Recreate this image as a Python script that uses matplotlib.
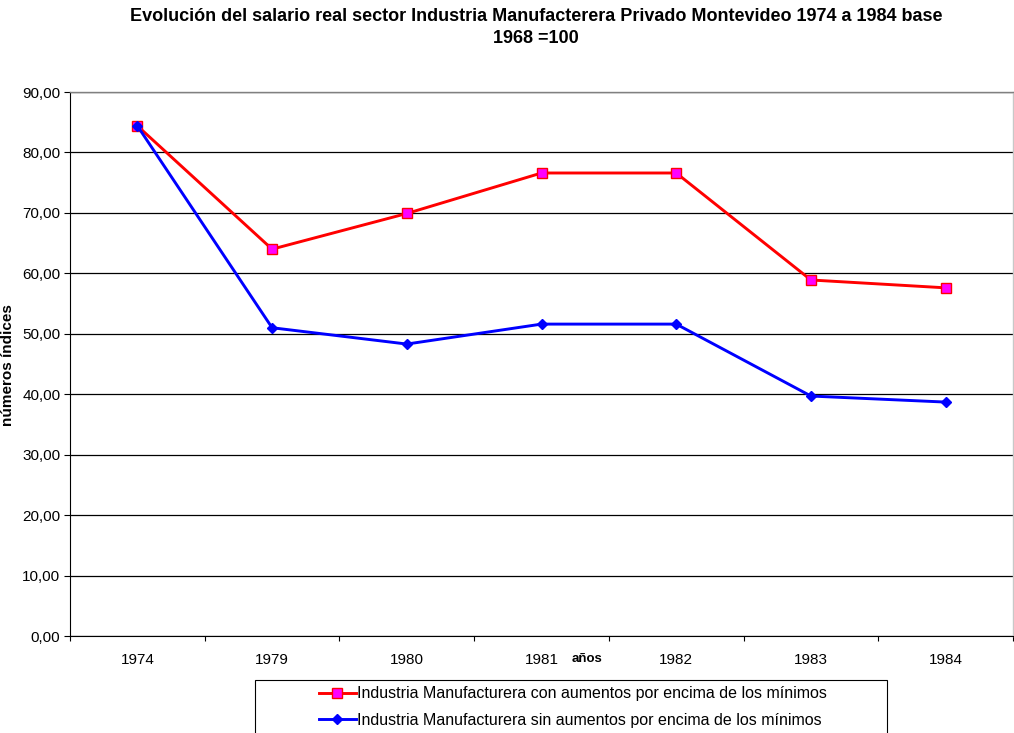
import matplotlib
matplotlib.use("Agg")
import matplotlib.pyplot as plt
from matplotlib.ticker import FuncFormatter, FixedLocator
from matplotlib.patches import Rectangle

plt.rcParams['font.family'] = ['Liberation Sans', 'DejaVu Sans']

years = ["1974", "1979", "1980", "1981", "1982", "1983", "1984"]
con_aumentos = [84.4, 64.0, 69.9, 76.6, 76.6, 58.9, 57.6]
sin_aumentos = [84.4, 51.0, 48.3, 51.6, 51.6, 39.7, 38.7]
label_con = "Industria Manufacturera con aumentos por encima de los mínimos"
label_sin = "Industria Manufacturera sin aumentos por encima de los mínimos"
title = "Evolución del salario real sector Industria Manufacterera Privado Montevideo 1974 a 1984 base\n1968 =100"

fig = plt.figure(figsize=(10.14, 7.33), dpi=100)
W, H = 1014, 733
ax = fig.add_axes([70 / W, (H - 636) / H, (1013 - 70) / W, (636 - 92) / H])

x = list(range(len(years)))
ax.plot(x, con_aumentos, color="#ff0000", lw=2.1, marker="s", markersize=6.5,
        markerfacecolor="#ff00ff", markeredgecolor="#ff0000", markeredgewidth=1.0,
        label=label_con, zorder=3)
ax.plot(x, sin_aumentos, color="#0000ff", lw=2.1, marker="D", markersize=5,
        markerfacecolor="#0000ff", markeredgecolor="#0000ff",
        label=label_sin, zorder=4)

ax.set_xlim(-0.5, len(years) - 0.5)
ax.set_ylim(0, 90)
ax.set_yticks(range(0, 91, 10))
ax.yaxis.set_major_formatter(FuncFormatter(lambda v, p: f"{v:.2f}".replace(".", ",")))
ax.set_xticks(x)
ax.set_xticklabels(years)
ax.xaxis.set_minor_locator(FixedLocator([i - 0.5 for i in range(len(years) + 1)]))
ax.tick_params(axis="x", which="major", length=0, pad=12, labelsize=11)
ax.tick_params(axis="x", which="minor", length=3.5, width=0.8, color="black")
ax.tick_params(axis="y", length=4, width=0.8, labelsize=11, pad=3)

ax.grid(axis="y", color="black", lw=0.9, zorder=0)
ax.set_axisbelow(True)
ax.spines["top"].set_color("#808080")
ax.spines["top"].set_linewidth(1.0)
ax.spines["right"].set_color("#c8c8c8")
ax.spines["right"].set_linewidth(1.0)
ax.spines["left"].set_color("black")
ax.spines["bottom"].set_color("black")

fig.text(8 / W, 1 - 365 / H, "números índices", fontsize=11, fontweight="bold",
         rotation=90, ha="center", va="center")
fig.text(587 / W, 1 - 659 / H, "años", fontsize=9.5, fontweight="bold", ha="center", va="center")

fig.text(536 / W, 1 - 27.5 / H, title, fontsize=13, fontweight="bold", ha="center", va="center",
         linespacing=1.4)

fig.patches.append(Rectangle((255 / W, -0.05), (887 - 255) / W, (1 - 680 / H) + 0.05,
                             transform=fig.transFigure, facecolor="white",
                             edgecolor="black", lw=0.8))
leg = fig.legend(loc="upper center", bbox_to_anchor=(573 / W, 1 - 683 / H), ncol=1,
                 fontsize=11.5, frameon=False,
                 handlelength=2.3, handletextpad=0.1, borderpad=0.2, labelspacing=0.72,
                 borderaxespad=0)

fig.savefig("out.png", dpi=100)
